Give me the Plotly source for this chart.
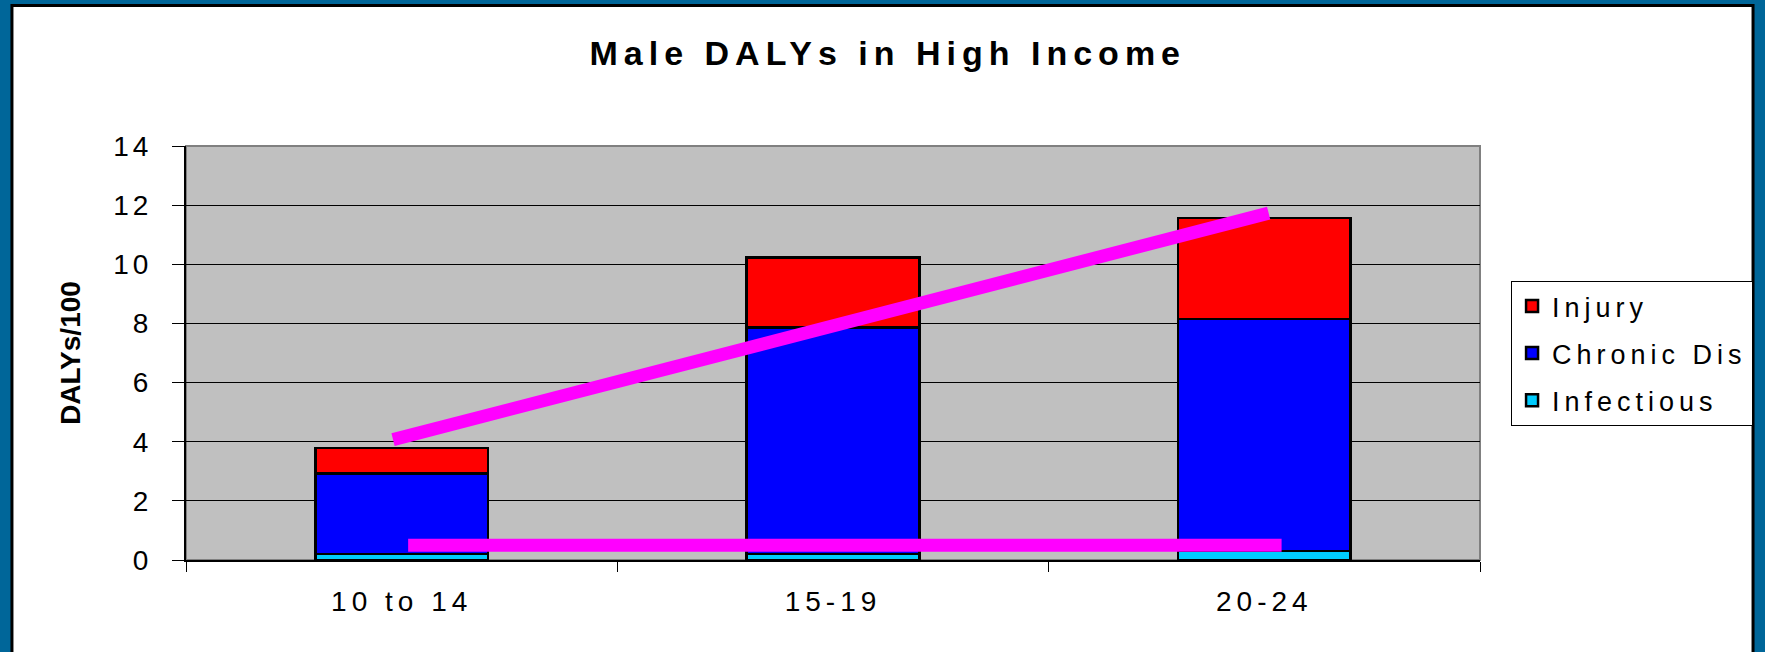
import plotly.graph_objects as go

age_groups = ["10 to 14", "15-19", "20-24"]
infectious = [0.2, 0.2, 0.3]
chronic = [2.73, 7.66, 7.85]
injury = [0.85, 2.37, 3.41]
y_ticks = [0, 2, 4, 6, 8, 10, 12, 14]

# hand drawn magenta trend lines (x in category units)
trend_x = [-0.02, 2.01]
trend_y = [4.07, 11.73]
base_x = [0.015, 2.04]
base_y = [0.5, 0.5]

FONT = "Liberation Sans, Arial, sans-serif"


def spaced(txt, px=5):
    return '<span style="letter-spacing:%dpx">%s</span>' % (px, txt)


fig = go.Figure()

series = [
    ("Infectious", infectious, "#00CCFF", 3),
    ("Chronic Dis", chronic, "#0000FF", 2),
    ("Injury", injury, "#FF0000", 1),
]
for name, vals, color, rank in series:
    fig.add_trace(
        go.Bar(
            x=age_groups,
            y=vals,
            name=spaced(name),
            legendgroup=name,
            legendrank=rank,
            width=0.4,
            marker=dict(color=color, line=dict(color="black", width=2.5)),
            hoverinfo="y",
        )
    )

for xs, ys in [(trend_x, trend_y), (base_x, base_y)]:
    fig.add_trace(
        go.Scatter(
            x=xs,
            y=ys,
            xaxis="x2",
            mode="lines",
            line=dict(color="#FF00FF", width=13),
            showlegend=False,
            hoverinfo="skip",
        )
    )

fig.update_layout(
    width=1765,
    height=652,
    barmode="stack",
    paper_bgcolor="#006699",
    plot_bgcolor="rgba(0,0,0,0)",
    margin=dict(l=186, r=285, t=146, b=92),
    font=dict(family=FONT, size=28, color="black"),
    title=dict(
        text="<b>" + spaced("Male DALYs in High Income", 6) + "</b>",
        x=0.503,
        xanchor="center",
        y=0.919,
        yanchor="middle",
        font=dict(size=34, color="black"),
    ),
    xaxis=dict(
        type="category",
        range=[-0.5, 2.5],
        tickson="boundaries",
        tickmode="array",
        tickvals=age_groups,
        ticktext=[spaced(a, 5) for a in age_groups],
        ticks="outside",
        ticklen=10,
        tickcolor="black",
        ticklabelstandoff=15,
        showline=True,
        linecolor="black",
        linewidth=2,
        showgrid=False,
        fixedrange=True,
    ),
    xaxis2=dict(
        overlaying="x",
        range=[-0.5, 2.5],
        visible=False,
        fixedrange=True,
    ),
    yaxis=dict(
        range=[0, 14],
        tickmode="array",
        tickvals=y_ticks,
        ticktext=[spaced(str(v), 4) for v in y_ticks],
        ticks="outside",
        ticklen=12,
        tickcolor="black",
        ticklabelstandoff=14,
        showline=True,
        linecolor="black",
        linewidth=2,
        showgrid=True,
        gridcolor="black",
        gridwidth=1,
        zeroline=False,
        fixedrange=True,
        title=dict(
            text="<b>DALYs/100</b>",
            font=dict(size=28, color="black"),
            standoff=24,
        ),
    ),
    legend=dict(
        x=1.024,
        y=0.674,
        xanchor="left",
        yanchor="top",
        bgcolor="white",
        bordercolor="black",
        borderwidth=1,
        traceorder="grouped",
        tracegroupgap=9,
        font=dict(size=27),
    ),
    shapes=[
        # white slide area with dark edge
        dict(
            type="rect", xref="paper", yref="paper",
            x0=-0.1345, x1=1.2110, y0=-0.40, y1=1.3394,
            fillcolor="white", line=dict(color="black", width=3),
            layer="below",
        ),
        # grey plot area
        dict(
            type="rect", xref="paper", yref="paper",
            x0=0, x1=1, y0=0, y1=1,
            fillcolor="#C0C0C0", line=dict(color="#808080", width=2),
            layer="below",
        ),
    ],
)

fig.write_html(
    "out.html",
    config={"displayModeBar": False},
    post_script="document.body.style.margin='0';",
)
